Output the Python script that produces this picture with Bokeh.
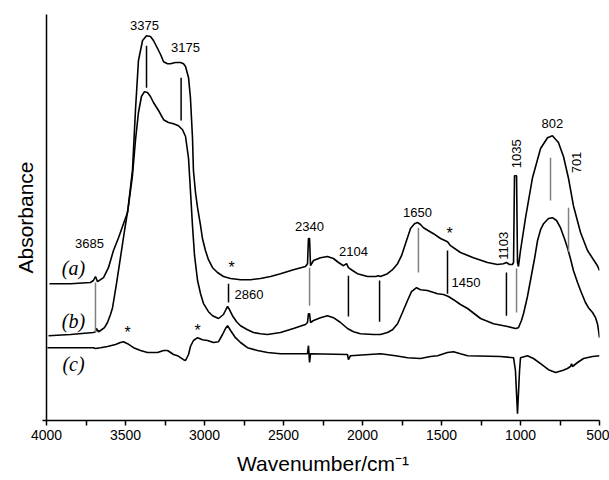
import math
from bokeh.plotting import figure
from bokeh.models import Range1d, FixedTicker
from bokeh.core.properties import value
from bokeh.embed import file_html
from bokeh.resources import INLINE

# ---- spectra (wavenumber in cm-1, absorbance in arbitrary units) ----
wn_a = [3981, 3848, 3722, 3703, 3690, 3677, 3658, 3639, 3608, 3576, 3544, 3519, 3487, 3456, 3437, 3418,
        3392, 3367, 3342, 3323, 3297, 3278, 3259, 3234, 3215, 3184, 3152, 3133, 3120, 3101, 3089, 3076,
        3070, 3057, 3044, 3025, 3013, 2994, 2975, 2949, 2918, 2880, 2835, 2772, 2709, 2646, 2582, 2519,
        2437, 2361, 2348, 2342, 2335, 2329, 2310, 2266, 2222, 2184, 2152, 2120, 2101, 2089, 2063, 2032,
        1968, 1918, 1899, 1886, 1842, 1810, 1778, 1753, 1728, 1696, 1671, 1652, 1633, 1614, 1551, 1506,
        1462, 1443, 1380, 1298, 1209, 1146, 1108, 1089, 1070, 1051, 1044, 1038, 1025, 1019, 1013, 1000,
        968, 924, 873, 829, 798, 760, 728, 696, 665, 620, 576, 538, 513, 500]
abs_a = [0.342, 0.342, 0.345, 0.350, 0.360, 0.347, 0.352, 0.357, 0.382, 0.425, 0.457, 0.485, 0.520, 0.625, 0.775, 0.900,
         0.950, 0.962, 0.960, 0.950, 0.930, 0.915, 0.897, 0.892, 0.892, 0.895, 0.895, 0.892, 0.885, 0.857, 0.807, 0.707,
         0.625, 0.570, 0.532, 0.487, 0.455, 0.425, 0.402, 0.382, 0.370, 0.360, 0.355, 0.352, 0.352, 0.355, 0.360, 0.367,
         0.377, 0.385, 0.392, 0.455, 0.455, 0.387, 0.400, 0.407, 0.410, 0.405, 0.395, 0.387, 0.392, 0.382, 0.375, 0.367,
         0.360, 0.360, 0.362, 0.360, 0.367, 0.377, 0.392, 0.412, 0.442, 0.480, 0.492, 0.495, 0.490, 0.482, 0.467, 0.455,
         0.447, 0.437, 0.420, 0.407, 0.395, 0.390, 0.392, 0.395, 0.390, 0.390, 0.395, 0.612, 0.612, 0.395, 0.385, 0.425,
         0.507, 0.607, 0.680, 0.707, 0.712, 0.695, 0.660, 0.605, 0.537, 0.470, 0.425, 0.402, 0.387, 0.375]

wn_b = [3987, 3848, 3703, 3690, 3684, 3671, 3658, 3633, 3614, 3595, 3582, 3557, 3532, 3506, 3481, 3456,
        3437, 3418, 3399, 3380, 3361, 3342, 3323, 3291, 3259, 3228, 3196, 3165, 3139, 3120, 3101, 3089,
        3076, 3063, 3044, 3025, 3006, 2975, 2949, 2911, 2880, 2861, 2854, 2842, 2823, 2797, 2772, 2728,
        2690, 2646, 2601, 2519, 2437, 2361, 2348, 2342, 2335, 2329, 2310, 2266, 2222, 2184, 2139, 2095,
        2057, 2013, 1930, 1886, 1842, 1810, 1778, 1747, 1715, 1690, 1658, 1633, 1589, 1525, 1487, 1456,
        1424, 1380, 1335, 1253, 1171, 1082, 1032, 1013, 994, 981, 956, 937, 911, 892, 873, 854,
        823, 798, 772, 747, 722, 703, 684, 665, 639, 620, 589, 570, 544, 525, 513, 506, 500]
abs_b = [0.212, 0.215, 0.220, 0.222, 0.230, 0.222, 0.225, 0.232, 0.245, 0.265, 0.282, 0.342, 0.407, 0.475, 0.537, 0.612,
         0.700, 0.770, 0.810, 0.822, 0.820, 0.810, 0.795, 0.775, 0.752, 0.745, 0.742, 0.737, 0.727, 0.710, 0.655, 0.575,
         0.487, 0.412, 0.350, 0.317, 0.292, 0.272, 0.262, 0.255, 0.265, 0.280, 0.285, 0.277, 0.262, 0.247, 0.237, 0.227,
         0.220, 0.217, 0.215, 0.220, 0.230, 0.240, 0.245, 0.267, 0.267, 0.245, 0.250, 0.257, 0.262, 0.257, 0.245, 0.230,
         0.222, 0.217, 0.215, 0.215, 0.220, 0.227, 0.242, 0.270, 0.300, 0.322, 0.332, 0.327, 0.325, 0.317, 0.315, 0.310,
         0.302, 0.290, 0.280, 0.255, 0.242, 0.235, 0.230, 0.232, 0.250, 0.267, 0.310, 0.350, 0.405, 0.450, 0.477, 0.492,
         0.505, 0.507, 0.500, 0.482, 0.455, 0.432, 0.405, 0.375, 0.345, 0.325, 0.295, 0.282, 0.270, 0.257, 0.242, 0.225, 0.207]

wn_c = [3994, 3848, 3703, 3690, 3658, 3614, 3563, 3532, 3513, 3487, 3449, 3405, 3361, 3323, 3297, 3259,
        3234, 3196, 3171, 3133, 3120, 3101, 3089, 3070, 3044, 3013, 2981, 2943, 2911, 2886, 2867, 2854,
        2835, 2804, 2772, 2728, 2665, 2601, 2519, 2348, 2342, 2335, 2329, 2095, 2089, 2076, 1886, 1791,
        1715, 1633, 1570, 1525, 1462, 1424, 1380, 1335, 1127, 1044, 1032, 1019, 1006, 1000, 956, 918,
        873, 823, 778, 734, 703, 684, 677, 671, 639, 601, 544, 500]
abs_c = [0.182, 0.182, 0.182, 0.180, 0.182, 0.185, 0.190, 0.195, 0.197, 0.192, 0.182, 0.175, 0.170, 0.170, 0.170, 0.175,
         0.175, 0.165, 0.162, 0.152, 0.150, 0.165, 0.185, 0.200, 0.207, 0.202, 0.200, 0.195, 0.197, 0.215, 0.230, 0.237,
         0.225, 0.207, 0.195, 0.182, 0.175, 0.170, 0.167, 0.167, 0.187, 0.145, 0.167, 0.165, 0.152, 0.162, 0.167, 0.162,
         0.157, 0.155, 0.160, 0.162, 0.170, 0.172, 0.167, 0.162, 0.160, 0.157, 0.125, 0.017, 0.125, 0.157, 0.162, 0.155,
         0.142, 0.127, 0.120, 0.125, 0.130, 0.135, 0.142, 0.135, 0.145, 0.155, 0.160, 0.162]

# ---- band marker lines ----
mark_wn = [3690, 3367, 3148, 2848, 2335, 2089, 1892, 1646, 1462, 1089, 1025, 810, 696]
mark_lo = [0.220, 0.832, 0.750, 0.295, 0.287, 0.260, 0.247, 0.370, 0.317, 0.262, 0.270, 0.550, 0.422]
mark_hi = [0.345, 0.937, 0.857, 0.342, 0.382, 0.362, 0.350, 0.482, 0.425, 0.370, 0.380, 0.657, 0.532]
mark_col = ["#808080", "black", "black", "black", "#808080", "black", "black", "#808080",
            "black", "black", "#808080", "#808080", "#808080"]

# ---- band labels ----
lab_text = ["3375", "3175", "3685", "2340", "2104", "1650", "802"]
lab_wn = [3380, 3120, 3728, 2335, 2057, 1652, 798]
lab_y = [0.987, 0.932, 0.442, 0.485, 0.422, 0.520, 0.742]

left_text = ["2860", "1450"]
left_wn = [2810, 1437]
left_y = [0.315, 0.345]

rot_text = ["1103", "1035", "701"]
rot_wn = [1108, 1025, 646]
rot_y = [0.437, 0.667, 0.645]

star_wn = [2829, 3044, 3487, 1449]
star_y = [0.382, 0.225, 0.220, 0.467]

trace_text = ["(a)", "(b)", "(c)"]
trace_wn = [3829, 3829, 3829]
trace_y = [0.382, 0.250, 0.142]

x_major = [500, 1000, 1500, 2000, 2500, 3000, 3500, 4000]
x_minor = [750, 1250, 1750, 2250, 2750, 3250, 3750]

p = figure(width=609, height=480, output_backend="svg", toolbar_location=None,
           x_range=Range1d(4000, 500), y_range=Range1d(0, 1.015),
           min_border_left=46, min_border_right=10, min_border_top=14, min_border_bottom=60)
p.outline_line_color = None
p.xgrid.visible = False
p.ygrid.visible = False
p.background_fill_color = "white"

for wn, ab in [(wn_a, abs_a), (wn_b, abs_b), (wn_c, abs_c)]:
    p.line(wn, ab, line_color="black", line_width=1.6)

p.segment(x0=mark_wn, y0=mark_lo, x1=mark_wn, y1=mark_hi, line_color=mark_col, line_width=1.5)

FONT = value("Liberation Sans")
p.text(lab_wn, lab_y, text=lab_text, text_font=FONT, text_font_size="13px",
       text_align="center", text_baseline="middle", text_color="black")
p.text(left_wn, left_y, text=left_text, text_font=FONT, text_font_size="13px",
       text_align="left", text_baseline="middle", text_color="black")
p.text(rot_wn, rot_y, text=rot_text, text_font=FONT, text_font_size="13px",
       text_align="center", text_baseline="middle", angle=math.pi / 2, text_color="black")
p.text(star_wn, star_y, text=["*"] * len(star_wn), text_font=FONT, text_font_size="16px",
       text_align="center", text_baseline="middle", text_color="black")
p.text(trace_wn, trace_y, text=trace_text, text_font=value("Liberation Serif"), text_font_size="20px",
       text_font_style="italic", text_align="center", text_baseline="middle", text_color="black")

# x axis
xa = p.xaxis[0]
xa.ticker = FixedTicker(ticks=x_major, minor_ticks=x_minor)
xa.axis_label = "Wavenumber/cm⁻¹"
xa.axis_label_text_font = "Liberation Sans"
xa.axis_label_text_font_size = "21px"
xa.axis_label_text_font_style = "normal"
xa.axis_label_text_color = "black"
xa.axis_label_standoff = 9
xa.major_label_text_font = "Liberation Sans"
xa.major_label_text_font_size = "14px"
xa.major_label_text_color = "black"
xa.major_label_standoff = 4
xa.major_tick_out = 5
xa.major_tick_in = 0
xa.minor_tick_out = 5
xa.minor_tick_in = 0
xa.axis_line_width = 1.5
xa.major_tick_line_width = 1.5
xa.minor_tick_line_width = 1.5
xa.axis_line_color = "black"

# y axis
ya = p.yaxis[0]
ya.ticker = FixedTicker(ticks=[0], minor_ticks=[])
ya.major_label_overrides = {0: ""}
ya.axis_label = "Absorbance"
ya.axis_label_text_font = "Liberation Sans"
ya.axis_label_text_font_size = "21px"
ya.axis_label_text_font_style = "normal"
ya.axis_label_text_color = "black"
ya.axis_label_standoff = 6
ya.major_tick_out = 4
ya.major_tick_in = 0
ya.axis_line_width = 1.5
ya.major_tick_line_width = 1.5

open("out.html", "w").write(file_html(p, INLINE))
